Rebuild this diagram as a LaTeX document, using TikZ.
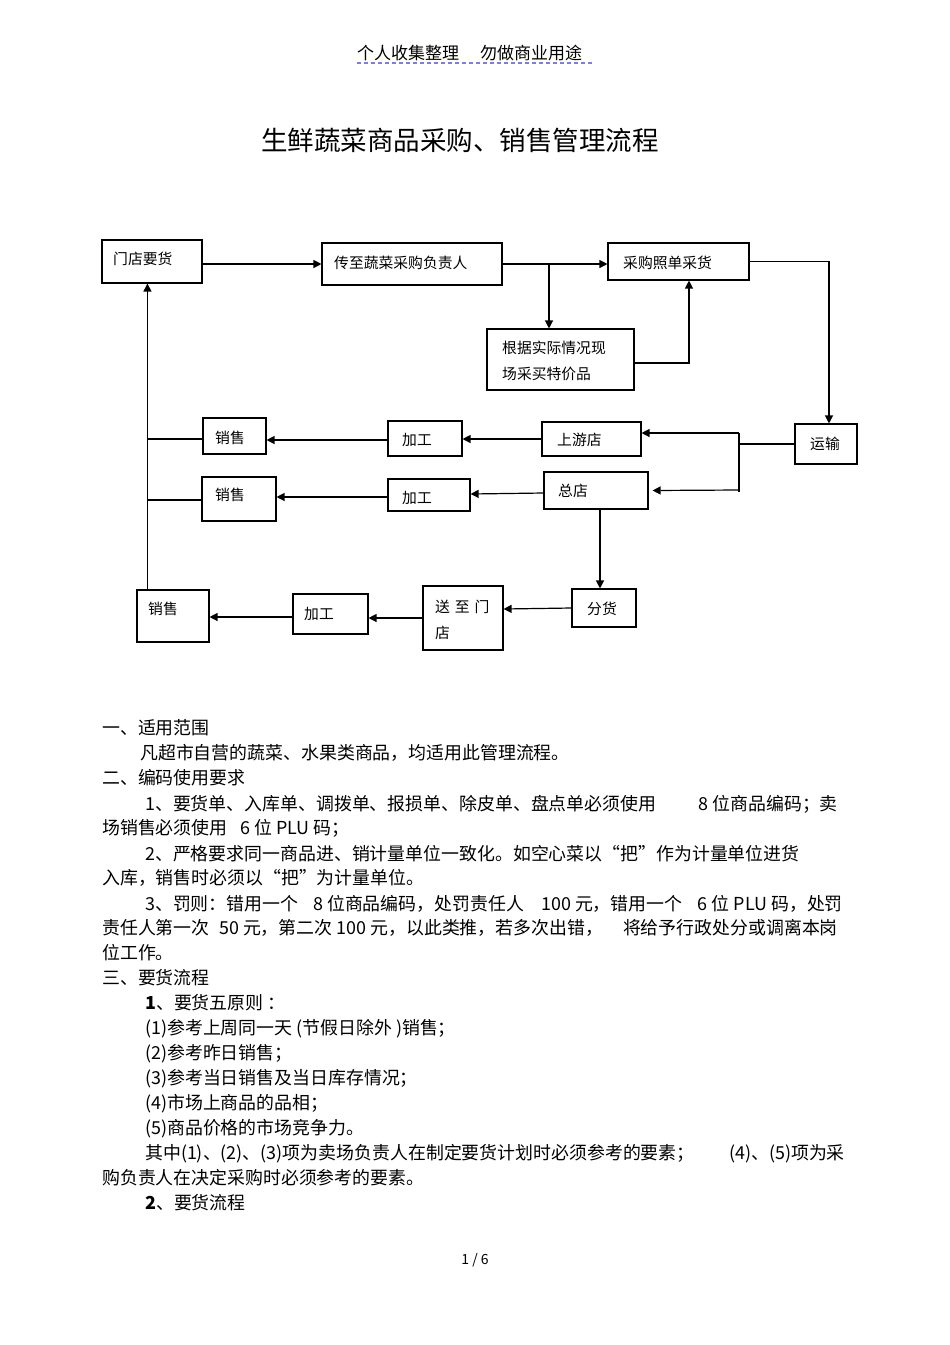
\documentclass[tikz,border=0pt]{standalone}
\usepackage{fontspec}
\setmainfont{Noto Sans CJK SC}
\usetikzlibrary{arrows.meta,calc}
\newcommand\bodyfs{\fontsize{17.9pt}{20pt}\selectfont}
\newcommand\boxfs{\fontsize{14.8pt}{17pt}\selectfont}
\definecolor{hdblue}{RGB}{125,125,225}
\begin{document}
\begin{tikzpicture}[x=1pt,y=-1pt,
  box/.style={draw,line width=1.1pt,inner sep=0pt,minimum width=#1},
  lbl/.style={anchor=west,inner sep=0pt,font=\boxfs,text height=0.88em,text depth=0.12em,yshift=-2.5pt},
  txt/.style={anchor=west,inner sep=0pt,font=\bodyfs,text height=0.88em,text depth=0.12em,yshift=-3pt},
  txte/.style={txt,anchor=east},
  arr/.style={line width=1.2pt,-{Triangle[length=8pt,width=8pt]}},
  ln/.style={line width=1.2pt}]
\useasboundingbox (0,0) rectangle (950,1345);
\fill[white] (0,0) rectangle (950,1345);
% header
\node[anchor=west,inner sep=0pt,font=\fontsize{17pt}{20pt}\selectfont,yshift=-1pt] (hd1) at (357,52) {个人收集整理};
\node[anchor=west,inner sep=0pt,font=\fontsize{17pt}{20pt}\selectfont,yshift=-1pt] (hd2) at (480,52) {勿做商业用途};
\draw[hdblue,line width=1.4pt,dash pattern=on 4pt off 3pt] (357,63) -- (592,63);
% title
\node[inner sep=0pt,font=\fontsize{26.5pt}{30pt}\selectfont] (title) at (460,140) {生鲜蔬菜商品采购、销售管理流程};
% boxes
\node[box=100,minimum height=43] (A) at (152,261.5) {};
\node[box=180,minimum height=42] (B) at (412,264) {};
\node[box=141,minimum height=37] (C) at (678.5,261.5) {};
\node[box=147,minimum height=61] (D) at (560.5,359.5) {};
\node[box=62,minimum height=40] (E) at (826,444) {};
\node[box=99,minimum height=34] (F) at (591.5,439) {};
\node[box=104,minimum height=37] (G) at (596,490.5) {};
\node[box=64,minimum height=38] (H) at (604,608) {};
\node[box=74,minimum height=35] (I) at (425,438.5) {};
\node[box=63,minimum height=36] (J) at (234.5,436) {};
\node[box=82,minimum height=32] (K) at (429,495) {};
\node[box=74,minimum height=44] (L) at (239,499) {};
\node[box=80,minimum height=64] (M) at (463,618) {};
\node[box=75,minimum height=40] (N) at (330.5,614) {};
\node[box=72,minimum height=52] (O) at (173,616) {};
% box texts
\node[lbl] (tA) at (113,258) {门店要货};
\node[lbl] (tB) at (334,262) {传至蔬菜采购负责人};
\node[lbl] (tC) at (623,262) {采购照单采货};
\node[lbl] (tD1) at (502,347) {根据实际情况现};
\node[lbl] (tD2) at (502,373) {场采买特价品};
\node[lbl] (tE) at (810,443) {运输};
\node[lbl] (tF) at (557,439) {上游店};
\node[lbl] (tG) at (558,490) {总店};
\node[lbl] (tH) at (587,608) {分货};
\node[lbl] (tI) at (402,439) {加工};
\node[lbl] (tJ) at (215,437) {销售};
\node[lbl] (tK) at (402,497) {加工};
\node[lbl] (tL) at (215,494) {销售};
\node[lbl] (tM1) at (435,606) {送\,\,至\,\,门};
\node[lbl] (tM2) at (435,632) {店};
\node[lbl] (tN) at (304,613) {加工};
\node[lbl] (tO) at (148,608) {销售};
% connectors
\draw[arr] (A.east |- B.west) -- (B.west);
\draw[arr] (B.east) -- (B.east -| C.west);
\coordinate (br) at (549,264);
\draw[arr] (br) -- (br |- D.north);
\draw[arr] ([yshift=-3.5pt]D.east) -| ([xshift=10.5pt]C.south);
\draw[arr] (C.east) -| ([xshift=3pt]E.north);
\coordinate (jn) at (739,444);
\draw[ln] (E.west) -- (jn);
\draw[arr] ([yshift=11pt]jn) -- ([yshift=6pt]F.east);
\draw[ln] ([yshift=11pt]jn) -- ([yshift=-48pt]jn);
\draw[arr] ([yshift=-46pt]jn) -- ([xshift=4pt]G.east);
\draw[arr] (F.west) -- (F.west -| I.east);
\draw[arr] ([yshift=-1.5pt]I.west) -- ([yshift=-1.5pt]I.west -| J.east);
\coordinate (tr) at ([xshift=11pt]O.north west);
\draw[arr] (tr) -- (tr |- A.south);
\draw[ln] ([yshift=-3pt]J.west) -- ([yshift=-3pt]J.west -| tr);
\draw[arr] ([yshift=-2.5pt]G.west) -- ([yshift=1pt]K.east);
\draw[arr] ([yshift=-2pt]K.west) -- ([yshift=-2pt]K.west -| L.east);
\draw[ln] ([yshift=-1pt]L.west) -- ([yshift=-1pt]L.west -| tr);
\draw[arr] ([xshift=4pt]G.south) -- ([xshift=4pt]G.south |- H.north);
\draw[arr] (H.west) -- ([yshift=9pt]M.east);
\draw[arr] (M.west) -- (M.west -| N.east);
\draw[arr] ([yshift=-3pt]N.west) -- ([yshift=-3pt]N.west -| O.east);
% body text
\node[txt] (l1) at (102,728) {一、适用范围};
\node[txt] (l2) at (140,753) {凡超市自营的蔬菜、水果类商品，均适用此管理流程。};
\node[txt] (l3) at (102,778) {二、编码使用要求};
\node[txt] (l4a) at (145,804) {1、要货单、入库单、调拨单、报损单、除皮单、盘点单必须使用};
\node[txte] (l4b) at (838,804) {8 位商品编码；卖};
\node[txt] (l5a) at (102,828) {场销售必须使用};
\node[txt] (l5b) at (240,828) {6 位 PLU 码；};
\node[txt] (l6) at (145,854) {2、严格要求同一商品进、销计量单位一致化。如空心菜以“把”作为计量单位进货};
\node[txt] (l7) at (102,878) {入库，销售时必须以“把”为计量单位。};
\node[txt] (l8a) at (145,904) {3、罚则：错用一个};
\node[txt] (l8b) at (313,904) {8 位商品编码，处罚责任人};
\node[txt] (l8c) at (541,904) {100 元，错用一个};
\node[txte] (l8d) at (843,904) {6 位 PLU 码，处罚};
\node[txt] (l9a) at (102,928) {责任人第一次};
\node[txt] (l9b) at (219,928) {50 元，第二次 100 元，以此类推，若多次出错，};
\node[txte] (l9c) at (838,928) {将给予行政处分或调离本岗};
\node[txt] (l10) at (102,953) {位工作。};
\node[txt] (l11) at (102,978) {三、要货流程};
\node[txt] (l12) at (145,1003) {\textbf{1}、要货五原则 ：};
\node[txt] (l13) at (145,1028) {(1)参考上周同一天 (节假日除外 )销售；};
\node[txt] (l14) at (145,1053) {(2)参考昨日销售；};
\node[txt] (l15) at (145,1078) {(3)参考当日销售及当日库存情况；};
\node[txt] (l16) at (145,1103) {(4)市场上商品的品相；};
\node[txt] (l17) at (145,1128) {(5)商品价格的市场竞争力。};
\node[txt] (l18a) at (145,1153) {其中(1)、(2)、(3)项为卖场负责人在制定要货计划时必须参考的要素；};
\node[txte] (l18b) at (845,1153) {(4)、(5)项为采};
\node[txt] (l19) at (102,1178) {购负责人在决定采购时必须参考的要素。};
\node[txt] (l20) at (145,1203) {\textbf{2}、要货流程};
\node[inner sep=0pt,font=\fontsize{14pt}{16pt}\selectfont] (pg) at (475,1260) {1 / 6};
\end{tikzpicture}
\end{document}
